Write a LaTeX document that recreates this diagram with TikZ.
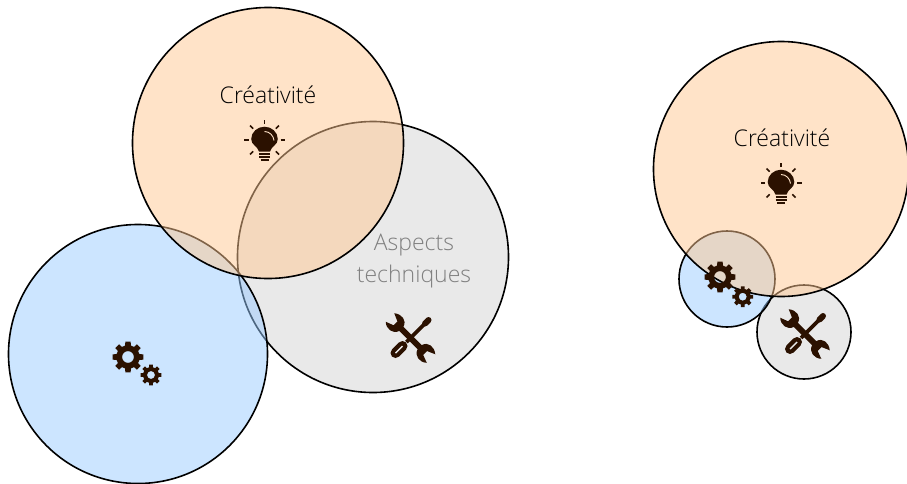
\documentclass[tikz,border=0pt]{standalone}
\usepackage{fontspec}
\setmainfont{Open Sans Light}
\definecolor{blueback}{RGB}{153,203,255}
\definecolor{greyback}{RGB}{211,211,211}
\definecolor{orangeback}{RGB}{255,199,145}
\definecolor{iconbrown}{RGB}{43,17,0}
\definecolor{bulbshine}{RGB}{255,227,200}
\definecolor{toolslit}{RGB}{233,233,233}
\tikzset{
    zone/.style={opacity=0.5},
    rim/.style={line width=1.6pt},
    label/.style={font=\fontsize{23}{32}\selectfont,align=center},
}
\newcommand\GearIcon[3]{
    \fill[iconbrown,even odd rule,shift={(#1,#2)},scale=#3]
        (-14:0.76) \foreach \a in {0,45,...,315} {
            -- (\a-14:0.76) -- (\a-10:1.0) -- (\a+10:1.0) -- (\a+14:0.76)
        } -- cycle (0,0) circle (0.38);
}
\newcommand\BulbIcon[3]{
    \begin{scope}[shift={(#1,#2)}]
        \fill[iconbrown] (-5.5,11.5) .. controls (-7,6) and (-13.3,5) .. (-13.3,-1)
            .. controls (-13.3,-8) and (-7,-13.3) .. (0,-13.3)
            .. controls (7,-13.3) and (13.3,-8) .. (13.3,-1)
            .. controls (13.3,5) and (7,6) .. (5.5,11.5) -- cycle;
        \draw[#3,line width=0.9pt] (0,-8.5) .. controls (5,-8.5) and (9,-4.5) .. (9.5,0.5);
        \draw[iconbrown,line width=1.6pt] (-5.5,14) -- (5.5,14);
        \draw[iconbrown,line width=1.6pt] (-5.5,17) -- (5.5,17);
        \draw[iconbrown,line width=1.6pt] (-4,20) -- (4,20);
        \foreach \a in {-90,-45,0,45,135,180,225} {
            \draw[iconbrown,line width=1.5pt] (\a:16) -- (\a:20.5);
        }
    \end{scope}
}
\newcommand\ToolsIcon[3]{
    \begin{scope}[shift={(#1,#2)}]
        % wrench
        \fill[iconbrown,rotate=-45] (-13,-3)
            -- (13,-3) .. controls (15,-10) and (23,-11) .. (29,-6)
            -- (21,-2.5) -- (21,3) -- (29,6)
            .. controls (24,11) and (15,10) .. (13,3) -- (-13,3)
            .. controls (-15,10) and (-24,11) .. (-29,6)
            -- (-21,3) -- (-21,-2.5) -- (-29,-6)
            .. controls (-23,-11) and (-15,-10) .. (-13,-3) -- cycle;
        % screwdriver
        \draw[iconbrown,line width=3.8pt] (17,-17) -- (-4,4);
        \draw[iconbrown,line width=6pt,line cap=round] (14.5,-14.5) -- (18,-18);
        \draw[iconbrown,line width=10pt,line cap=round] (-8,8) -- (-15,15);
        \draw[#3,line width=1.4pt] (-8,8) -- (-15,15);
    \end{scope}
}
\begin{document}
\begin{tikzpicture}[x=1pt,y=-1pt]
    \useasboundingbox (0,0) rectangle (907,483);
    % left group
    \fill[greyback,zone] (373,257) circle (135.5pt);
    \draw[rim] (373,257) circle (135.5pt);
    \fill[blueback,zone] (138,354) circle (129.5pt);
    \draw[rim] (138,354) circle (129.5pt);
    \fill[orangeback,zone] (268,143) circle (135.5pt);
    \draw[rim] (268,143) circle (135.5pt);
    \node[label] (creaLeft) at (268,95) {Créativité};
    \node[label,text=gray] (techLeft) at (414,261) {Aspects\\techniques};
    \BulbIcon{264.5}{140}{bulbshine}
    \GearIcon{128}{357}{15.5}
    \GearIcon{151}{375}{10.5}
    \ToolsIcon{410.5}{338}{toolslit}
    % right group
    \fill[greyback,zone] (804,332) circle (47pt);
    \draw[rim] (804,332) circle (47pt);
    \fill[blueback,zone] (727,279) circle (48pt);
    \draw[rim] (727,279) circle (48pt);
    \fill[orangeback,zone] (781,169) circle (127.5pt);
    \draw[rim] (781,169) circle (127.5pt);
    \node[label] (creaRight) at (782,138) {Créativité};
    \BulbIcon{781}{183}{bulbshine}
    \GearIcon{720}{277}{15.5}
    \GearIcon{742.7}{296.7}{10.5}
    \ToolsIcon{805}{334}{toolslit}
\end{tikzpicture}
\end{document}
